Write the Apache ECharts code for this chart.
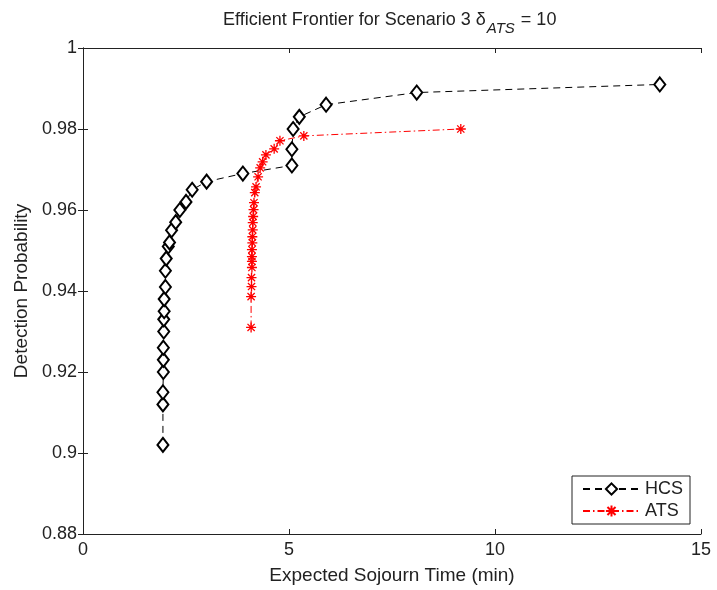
<!DOCTYPE html>
<html><head><meta charset="utf-8">
<script src="https://cdn.jsdelivr.net/npm/echarts@6/dist/echarts.min.js"></script>
<style>html,body{margin:0;padding:0;background:#fff}#c{width:717px;height:590px}</style>
</head><body><div id="c"></div>
<script>
const hcsX = [1.94,1.94,1.94,1.95,1.95,1.95,1.96,1.96,1.97,1.97,2.0,2.0,2.02,2.07,2.1,2.15,2.25,2.35,2.5,2.65,3.0,3.88,5.07,5.07,5.1,5.25,5.9,8.1,14.0];
const hcsY = [0.902,0.912,0.915,0.920,0.923,0.926,0.930,0.933,0.935,0.938,0.941,0.945,0.948,0.951,0.952,0.955,0.957,0.960,0.962,0.965,0.967,0.969,0.971,0.975,0.980,0.983,0.986,0.989,0.991];
const atsX = [4.08,4.08,4.09,4.09,4.1,4.1,4.1,4.1,4.11,4.11,4.12,4.12,4.13,4.14,4.15,4.17,4.2,4.25,4.3,4.36,4.44,4.64,4.78,5.36,9.17];
const atsY = [0.931,0.9386,0.9411,0.9433,0.9458,0.9473,0.9485,0.9502,0.9519,0.9534,0.9551,0.9569,0.9584,0.9601,0.9618,0.9643,0.9657,0.9682,0.9704,0.9719,0.9736,0.9751,0.9771,0.9783,0.980];
const xTicks = [0,5,10,15];
const yTicks = [0.88,0.9,0.92,0.94,0.96,0.98,1];
const seriesNames = ['HCS','ATS'];

const hcs = hcsX.map((x,i)=>[x,hcsY[i]]);
const ats = atsX.map((x,i)=>[x,atsY[i]]);
const star = 'path://M0,-5L0,5M-5,0L5,0M-3.6,-3.6L3.6,3.6M-3.6,3.6L3.6,-3.6';
const txt = '#222';
const font = 'Liberation Sans, Arial, sans-serif';
const axisCommon = {
  axisLine:{show:true,lineStyle:{color:'#222',width:1}},
  axisTick:{show:true,inside:true,length:5,lineStyle:{color:'#222'}},
  splitLine:{show:false}
};
const chart = echarts.init(document.getElementById('c'),null,{renderer:'canvas'});
chart.setOption({
  animation:false,
  backgroundColor:'#fff',
  title:{
    text:'{a|Efficient Frontier for Scenario 3 δ}{s|ATS}{a| = 10}',
    left:218, top:6,
    textStyle:{fontWeight:'normal',rich:{
      a:{fontSize:18,fontWeight:'normal',color:txt,fontFamily:font,lineHeight:22,verticalAlign:'top'},
      s:{fontSize:15,fontWeight:'normal',color:txt,fontFamily:font,fontStyle:'italic',padding:[10,1,0,1],lineHeight:22,verticalAlign:'top'}
    }}
  },
  grid:{left:83,right:16,top:48,bottom:55,containLabel:false},
  xAxis:[
    Object.assign({type:'value',min:0,max:15,interval:5,position:'bottom',
      name:'Expected Sojourn Time (min)',nameLocation:'middle',nameGap:32,
      nameTextStyle:{fontSize:19,color:txt,fontFamily:font},
      axisLabel:{fontSize:18,color:txt,fontFamily:font,margin:7,formatter:v=>xTicks.includes(v)?String(v):''}},axisCommon),
    Object.assign({type:'value',min:0,max:15,interval:5,position:'top',axisLabel:{show:false}},axisCommon)
  ],
  yAxis:[
    Object.assign({type:'value',min:0.88,max:1,interval:0.02,position:'left',
      name:'Detection Probability',nameLocation:'middle',nameGap:52,
      nameTextStyle:{fontSize:19,color:txt,fontFamily:font},
      axisLabel:{fontSize:18,color:txt,fontFamily:font,margin:6,
        formatter:v=>{const t=yTicks.find(k=>Math.abs(k-v)<1e-9);return t===undefined?'':String(t);}}},axisCommon),
    Object.assign({type:'value',min:0.88,max:1,interval:0.02,position:'right',axisLabel:{show:false}},axisCommon)
  ],
  legend:{
    orient:'vertical',left:572,top:476,
    data:seriesNames,
    padding:[4,7,4,10],itemGap:4,itemWidth:57,itemHeight:14,
    borderColor:'#222',borderWidth:1,backgroundColor:'#fff',
    textStyle:{fontSize:18,color:txt,fontFamily:font}
  },
  series:[
    {name:seriesNames[0],type:'line',data:hcs,symbol:'emptyDiamond',symbolSize:[11,14],
     lineStyle:{color:'#000',width:1,type:[7,5]},
     itemStyle:{color:'#000',borderColor:'#000',borderWidth:1.4}},
    {name:seriesNames[1],type:'line',data:ats,symbol:star,symbolSize:10,
     lineStyle:{color:'#f00',width:1,type:[7,3,1.5,3]},
     itemStyle:{color:'#f00',borderColor:'#f00',borderWidth:1.3}}
  ]
});
</script></body></html>
